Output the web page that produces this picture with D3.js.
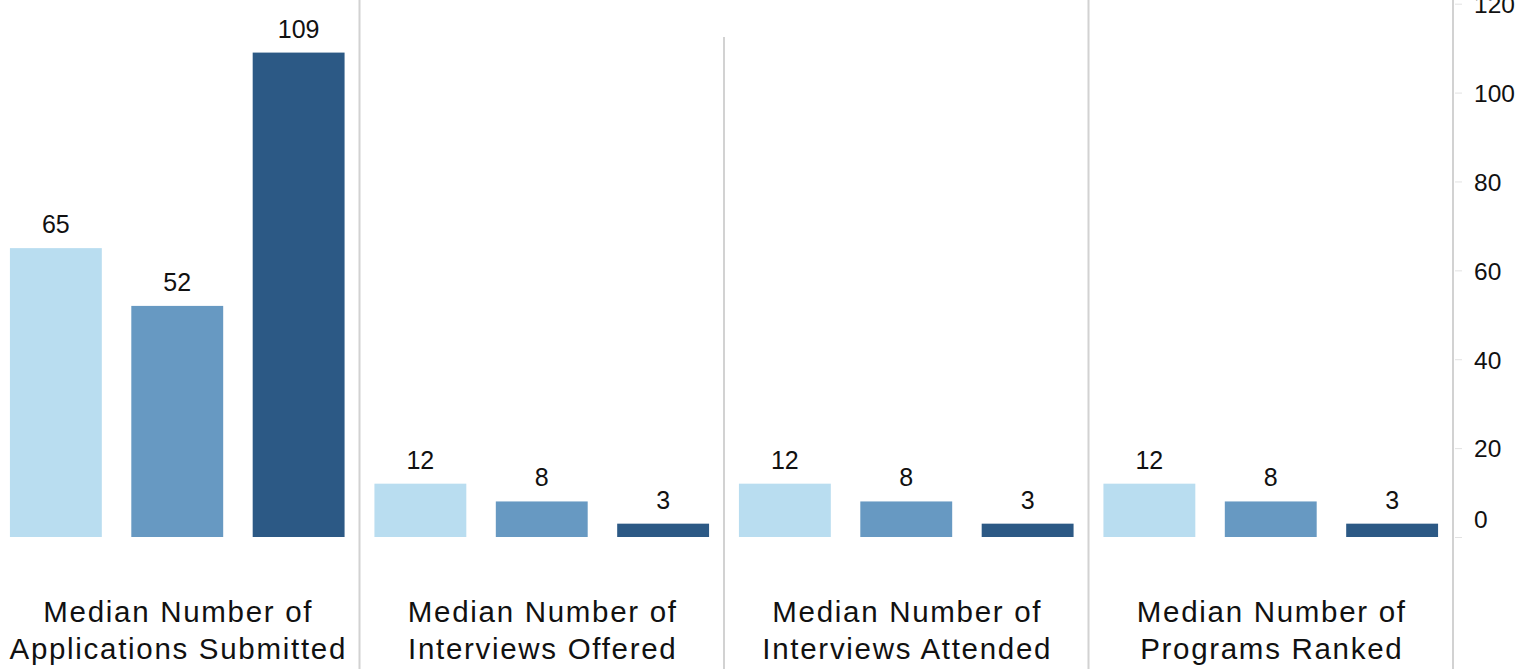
<!DOCTYPE html>
<html>
<head>
<meta charset="utf-8">
<script src="https://cdn.jsdelivr.net/npm/d3@7"></script>
<style>
  html, body { margin: 0; padding: 0; background: #fff; }
  svg { display: block; }
  text { font-family: "Liberation Sans", Arial, Helvetica, sans-serif; fill: #111; }
</style>
</head>
<body>
<svg id="chart" width="1526" height="669"></svg>
<script>
// ---- data ----
const categories = [
  ["Median Number of", "Applications Submitted"],
  ["Median Number of", "Interviews Offered"],
  ["Median Number of", "Interviews Attended"],
  ["Median Number of", "Programs Ranked"]
];
const seriesNames = ["Group 1", "Group 2", "Group 3"];
const seriesColors = ["#b9ddf0", "#6799c2", "#2c5985"];
const group1Values = [65, 12, 12, 12];
const group2Values = [52, 8, 8, 8];
const group3Values = [109, 3, 3, 3];
const tickValues = [0, 20, 40, 60, 80, 100, 120];

// ---- layout ----
const W = 1526, H = 669;
const svg = d3.select("#chart");
const plotLeft = -5, plotRight = 1453;
const seriesValues = [group1Values, group2Values, group3Values];

const x0 = d3.scaleBand()
  .domain(d3.range(categories.length))
  .range([plotLeft, plotRight])
  .paddingInner(0).paddingOuter(0);

const x1 = d3.scaleBand()
  .domain(seriesNames)
  .range([0, x0.bandwidth()])
  .paddingInner(0.243)
  .paddingOuter(0.123);

const y = d3.scaleLinear().domain([0, 120]).range([537, 3.7]);

// separators
const seps = [1, 2, 3].map(i => x0(i));
svg.append("g").selectAll("line")
  .data(seps)
  .join("line")
  .attr("x1", d => d).attr("x2", d => d)
  .attr("y1", (d, i) => i === 1 ? 37 : 0)
  .attr("y2", H)
  .attr("stroke", "#d2d2d2")
  .attr("stroke-width", 2);

// axis line
svg.append("line")
  .attr("x1", plotRight).attr("x2", plotRight)
  .attr("y1", 0).attr("y2", H)
  .attr("stroke", "#d2d2d2").attr("stroke-width", 2);

// axis
const axis = d3.axisRight(y).tickValues(tickValues).tickSize(7).tickPadding(12);
const ag = svg.append("g").attr("transform", `translate(${plotRight + 2},0)`).call(axis);
ag.select(".domain").remove();
ag.selectAll(".tick line").attr("stroke", "#e2e2e2").attr("stroke-width", 1);
ag.selectAll(".tick text")
  .attr("font-size", 24.5)
  .attr("fill", "#111")
  .style("font-family", "'Liberation Sans', Arial, sans-serif")
  .attr("dy", d => d === 0 ? "-0.4em" : "0.36em");

// bars
const groups = svg.append("g").selectAll("g")
  .data(categories.map((c, i) => i))
  .join("g")
  .attr("transform", i => `translate(${x0(i)},0)`);

groups.selectAll("rect")
  .data(i => seriesNames.map((s, j) => ({ s, j, v: seriesValues[j][i] })))
  .join("rect")
  .attr("x", d => x1(d.s))
  .attr("width", x1.bandwidth())
  .attr("y", d => y(d.v))
  .attr("height", d => y(0) - y(d.v))
  .attr("fill", d => seriesColors[d.j]);

groups.selectAll("text.val")
  .data(i => seriesNames.map((s, j) => ({ s, j, v: seriesValues[j][i] })))
  .join("text")
  .attr("class", "val")
  .attr("x", d => x1(d.s) + x1.bandwidth() / 2)
  .attr("y", d => y(d.v) - 15)
  .attr("text-anchor", "middle")
  .attr("font-size", 25)
  .text(d => d.v);

// category labels
groups.append("text")
  .attr("text-anchor", "middle")
  .attr("font-size", 29.5)
  .style("letter-spacing", "1.7px")
  .selectAll("tspan")
  .data(i => categories[i].map((t, k) => ({ t, k })))
  .join("tspan")
  .attr("x", x0.bandwidth() / 2 + 1)
  .attr("y", d => 621.5 + d.k * 37)
  .text(d => d.t);
</script>
</body>
</html>
